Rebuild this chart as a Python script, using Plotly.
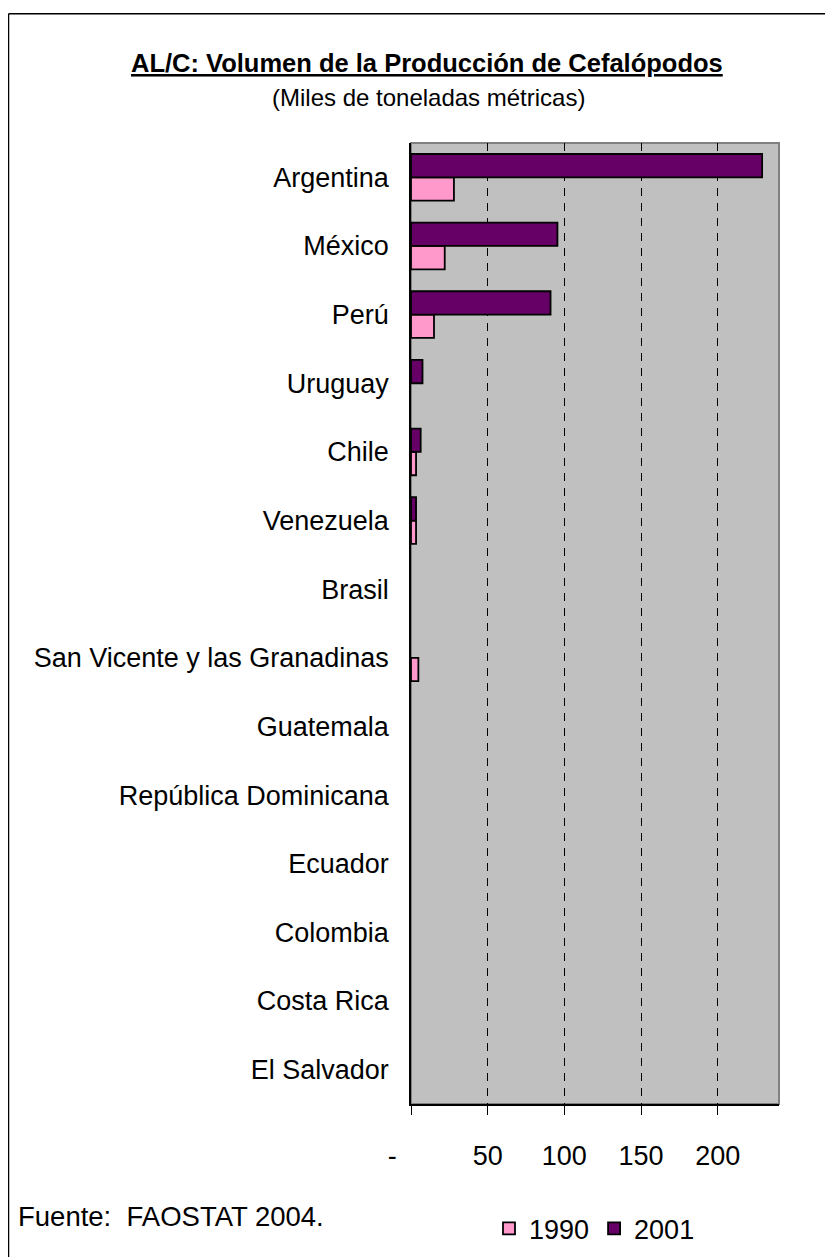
import plotly.graph_objects as go

countries = ["Argentina", "México", "Perú", "Uruguay", "Chile", "Venezuela", "Brasil",
             "San Vicente y las Granadinas", "Guatemala", "República Dominicana",
             "Ecuador", "Colombia", "Costa Rica", "El Salvador"]
v1990 = [28, 22, 15, None, 3.3, 3.3, None, 4.8, None, None, None, None, None, None]
v2001 = [229, 95.5, 91, 7.5, 6.3, 3.3, None, None, None, None, None, None, None, None]
tick_vals = [0, 50, 100, 150, 200]
tick_text = ["-\u00a0\u00a0\u00a0\u00a0\u00a0", "50", "100", "150", "200"]

FONT = "Liberation Sans, Arial, sans-serif"

fig = go.Figure()
fig.add_trace(go.Bar(y=countries, x=v1990, name="1990", orientation="h",
                     marker=dict(color="#FF99CC", line=dict(color="black", width=1.8))))
fig.add_trace(go.Bar(y=countries, x=v2001, name="2001", orientation="h",
                     marker=dict(color="#660066", line=dict(color="black", width=1.8))))

W, H = 833, 1257
OFF = 8  # page body margin offset
# reference pixel positions (screen) of the plot area
PL, PR, PT, PB = 411, 779, 143, 1113
L = PL - OFF
T = PT - OFF
R = W - (PR - OFF)
B = H - (PB - OFF)
PW = W - L - R
PH = H - T - B


def px(xs):
    return (xs - OFF - L) / PW


def py(ys):
    return 1 - (ys - OFF - T) / PH


fig.update_layout(
    width=W, height=H,
    margin=dict(l=L, r=R, t=T, b=B),
    paper_bgcolor="white", plot_bgcolor="#C0C0C0",
    barmode="group", bargap=0.32, bargroupgap=0,
    font=dict(family=FONT, size=27, color="black"),
    showlegend=True,
    legend=dict(orientation="h", x=px(489), xanchor="left",
                y=py(1239), yanchor="middle",
                font=dict(size=27), traceorder="normal", itemwidth=30,
                bgcolor="rgba(0,0,0,0)"),
    xaxis=dict(range=[0, 240], tickvals=tick_vals, ticktext=tick_text,
               showline=True, linecolor="black", linewidth=1.5,
               ticks="outside", ticklen=9, tickcolor="black", tickwidth=1,
               showgrid=True, gridcolor="black", gridwidth=1, griddash="8px,7px",
               zeroline=False, ticklabelstandoff=18, tickfont=dict(size=27)),
    yaxis=dict(categoryorder="array", categoryarray=list(reversed(countries)),
               showline=True, linecolor="black", linewidth=1.5,
               ticks="", showgrid=False, zeroline=False,
               ticklabelstandoff=15, tickfont=dict(size=27)),
)

# plot area gray border (top/right)
fig.add_shape(type="rect", xref="paper", yref="paper", x0=0, x1=1, y0=0, y1=1,
              line=dict(color="#808080", width=2), layer="below")
# outer frame (left/top)
fx = px(8.5)
fy = py(12.5)
fig.add_shape(type="line", xref="paper", yref="paper",
              x0=fx, x1=fx, y0=py(1300), y1=fy,
              line=dict(color="black", width=1.5))
fig.add_shape(type="line", xref="paper", yref="paper",
              x0=fx, x1=px(900), y0=fy, y1=fy,
              line=dict(color="black", width=1.5))

fig.add_annotation(text="<b><u>AL/C: Volumen de la Producción de Cefalópodos</u></b>",
                   xref="paper", yref="paper", x=px(427), y=py(62),
                   xanchor="center", yanchor="middle", showarrow=False,
                   font=dict(size=25.5, family=FONT))
fig.add_annotation(text="(Miles de toneladas métricas)",
                   xref="paper", yref="paper", x=px(428), y=py(97),
                   xanchor="center", yanchor="middle", showarrow=False,
                   font=dict(size=24, family=FONT))
fig.add_annotation(text="Fuente:  FAOSTAT 2004.",
                   xref="paper", yref="paper", x=px(16), y=py(1227),
                   xanchor="left", yanchor="middle", showarrow=False,
                   font=dict(size=27.5, family=FONT))

fig.write_html("out.html")
